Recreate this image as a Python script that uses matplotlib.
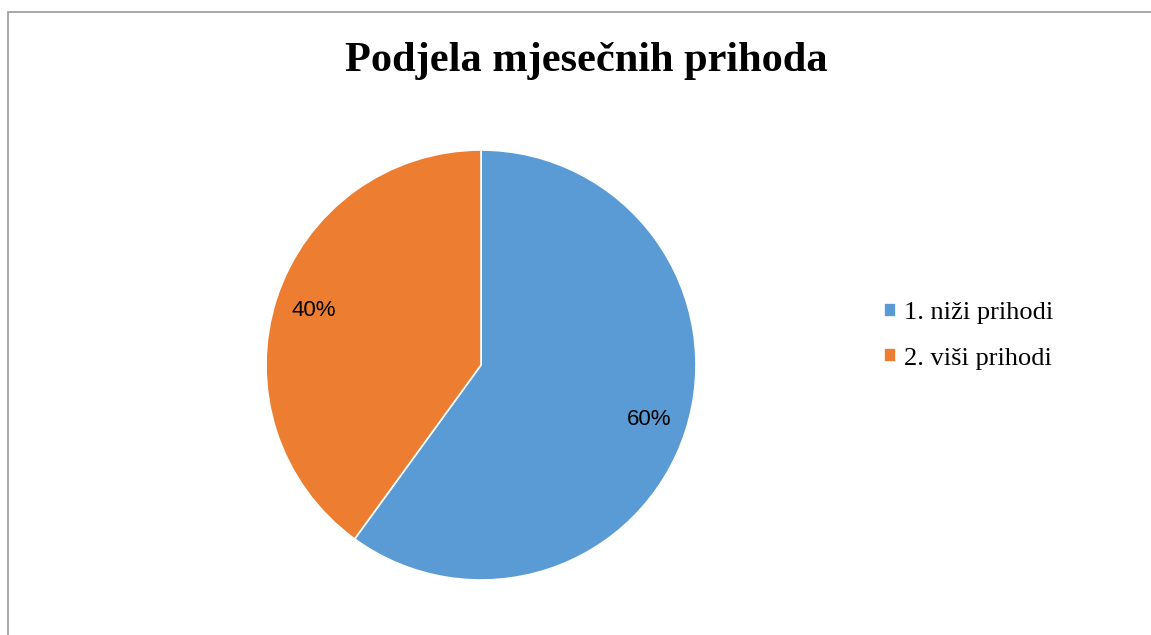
import matplotlib.pyplot as plt
from matplotlib.patches import Rectangle

labels = ["1. niži prihodi", "2. viši prihodi"]
values = [60, 40]
colors = ["#5B9BD5", "#ED7D31"]

W, H = 1151, 635
fig = plt.figure(figsize=(W / 100, H / 100), dpi=100)

# chart border (right and bottom are cut off in the reference)
fig.patches.append(Rectangle((8 / W, -0.1), 1.2, 1 - 12 / H + 0.1,
                             transform=fig.transFigure, fill=False,
                             edgecolor="#9a9a9a", linewidth=1.2))

cx, cy, r = 481, 365, 215
ax = fig.add_axes([(cx - r) / W, 1 - (cy + r) / H, 2 * r / W, 2 * r / H])
wedges, texts, autotexts = ax.pie(values, colors=colors, startangle=90, counterclock=False,
                                  autopct="%d%%", pctdistance=0.82,
                                  wedgeprops=dict(edgecolor="white", linewidth=1.2),
                                  textprops=dict(fontsize=16, family="Liberation Sans"))
ax.set_xlim(-1, 1)
ax.set_ylim(-1, 1)
ax.set_aspect("equal")

fig.text(586 / W, 1 - 61 / H, "Podjela mjesečnih prihoda", ha="center", va="center",
         fontsize=30.5, fontweight="bold", family="Liberation Serif")

fig.legend(wedges, labels, loc="center left", bbox_to_anchor=(884 / W, 1 - 336 / H),
           frameon=False, prop=dict(family="Liberation Serif", size=19),
           handlelength=0.45, handleheight=0.45, handletextpad=0.3, labelspacing=0.88,
           borderpad=0, borderaxespad=0)

fig.savefig("out.png", dpi=100)
